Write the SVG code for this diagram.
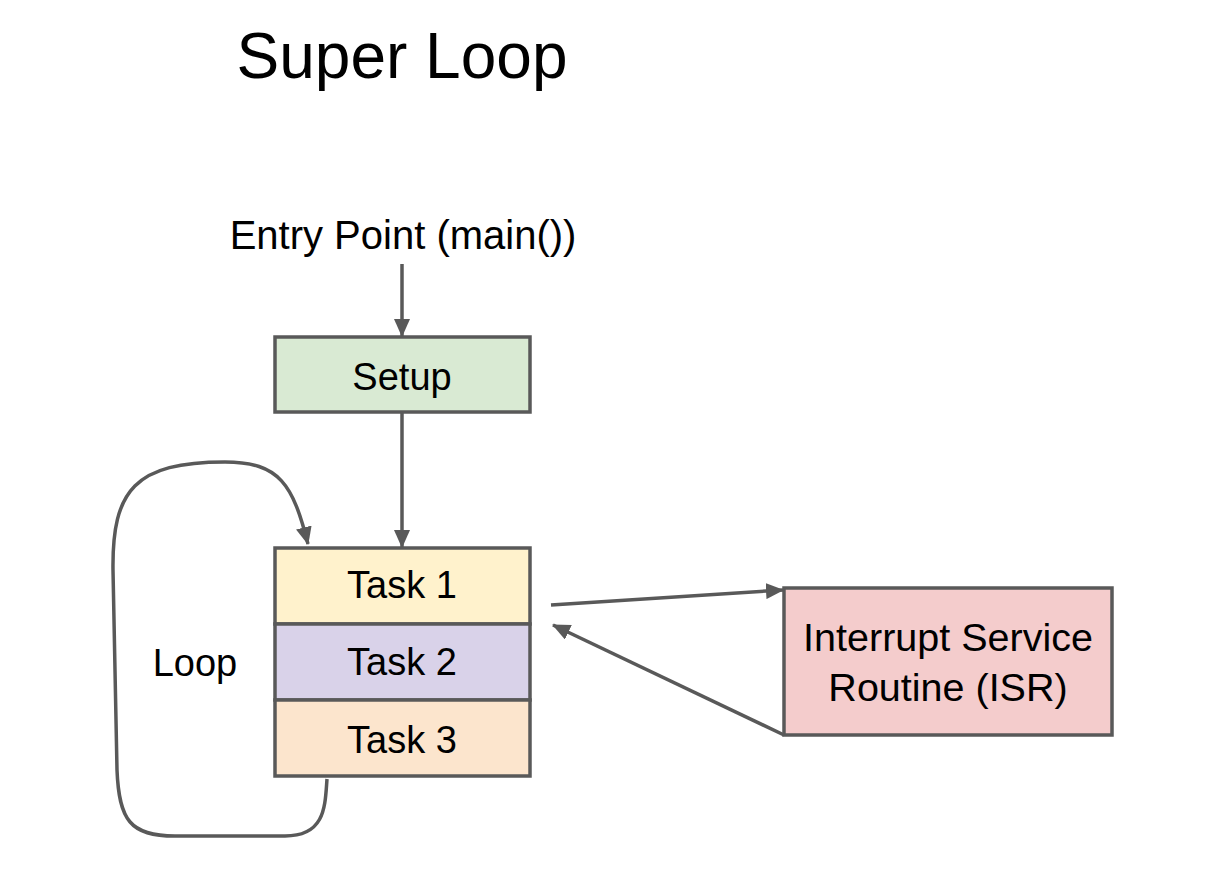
<svg xmlns="http://www.w3.org/2000/svg" width="1229" height="893" viewBox="0 0 1229 893">
<style>
text{font-family:"Liberation Sans",Arial,sans-serif;fill:#000;text-anchor:middle}
.box{stroke:#595959;stroke-width:3.5}
.lbl{font-size:38px}
.conn{fill:none;stroke:#595959;stroke-width:3.5}
</style>
<defs>
<marker id="ah" viewBox="0 0 18 16" refX="17" refY="8" markerWidth="18" markerHeight="16" markerUnits="userSpaceOnUse" orient="auto">
<path d="M0,0 L18,8 L0,16 z" fill="#595959"/>
</marker>
</defs>
<rect width="1229" height="893" fill="#fff"/>
<text x="402" y="78" font-size="64">Super Loop</text>
<g id="entry"><text x="403" y="249" font-size="40">Entry Point (main())</text></g>
<g id="setup"><rect class="box" x="275" y="337" width="255" height="75" fill="#d9ead3"/><text class="lbl" x="402" y="390">Setup</text></g>
<g id="task1"><rect class="box" x="275" y="548" width="255" height="76" fill="#fff2cc"/><text class="lbl" x="402" y="598">Task 1</text></g>
<g id="task2"><rect class="box" x="275" y="624" width="255" height="76" fill="#d9d2e9"/><text class="lbl" x="402" y="675">Task 2</text></g>
<g id="task3"><rect class="box" x="275" y="700" width="255" height="76" fill="#fce5cd"/><text class="lbl" x="402" y="753">Task 3</text></g>
<g id="isr"><rect class="box" x="784" y="588" width="328" height="147" fill="#f4cccc"/><text x="948" y="651" font-size="39.5">Interrupt Service</text><text x="948" y="701" font-size="39.5">Routine (ISR)</text></g>
<g id="loop"><text class="lbl" x="195" y="676">Loop</text></g>
<g id="connectors">
<line class="conn" x1="402" y1="264" x2="402" y2="336" marker-end="url(#ah)"/>
<line class="conn" x1="402" y1="413" x2="402" y2="547" marker-end="url(#ah)"/>
<line class="conn" x1="551" y1="605" x2="783" y2="590" marker-end="url(#ah)"/>
<line class="conn" x1="784" y1="735" x2="553" y2="625" marker-end="url(#ah)"/>
<path class="conn" d="M327,779 C325,805 326,836 285,836 L175,836 C130,836 119,820 117,770 L113,570 C112,490 135,462 225,462 C280,462 293,485 308,544" marker-end="url(#ah)"/>
</g>
</svg>
